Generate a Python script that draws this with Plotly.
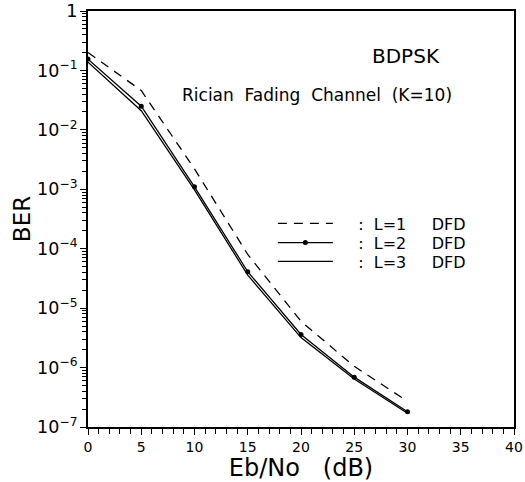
import plotly.graph_objects as go

ebno = [0, 5, 10, 15, 20, 25, 30]
ber_l1 = [0.20, 0.046, 0.0022, 8.0e-5, 6.0e-6, 1.05e-6, 2.7e-7]
ber_l2 = [0.155, 0.025, 0.0011, 4.1e-5, 3.6e-6, 6.9e-7, 1.8e-7]
ber_l3 = [0.138, 0.021, 0.00098, 3.6e-5, 3.2e-6, 6.4e-7, 1.7e-7]

font = "DejaVu Sans, Liberation Sans, sans-serif"

fig = go.Figure()
fig.add_trace(go.Scatter(x=ebno, y=ber_l1, mode="lines", name="    :  L=1     DFD",
                         legend="legend",
                         line=dict(color="black", width=1.3, dash="9px,7px")))
fig.add_trace(go.Scatter(x=ebno, y=ber_l2, mode="lines+markers", name="    :  L=2     DFD",
                         legend="legend2",
                         line=dict(color="black", width=1.3),
                         marker=dict(color="black", size=5, symbol="circle")))
fig.add_trace(go.Scatter(x=ebno, y=ber_l3, mode="lines", name="    :  L=3     DFD",
                         legend="legend3",
                         line=dict(color="black", width=1.3)))

leg_common = dict(x=0.434, xanchor="left", yanchor="top",
                  bgcolor="rgba(0,0,0,0)", font=dict(size=16, family=font),
                  itemwidth=55)

fig.update_layout(
    width=525, height=482,
    margin=dict(l=88, r=11, t=11, b=55, autoexpand=False),
    paper_bgcolor="white", plot_bgcolor="white",
    font=dict(family=font, color="black", size=13),
    showlegend=True,
    legend=dict(y=0.530, **leg_common),
    legend2=dict(y=0.484, **leg_common),
    legend3=dict(y=0.439, **leg_common),
    annotations=[
        dict(text="BDPSK", x=0.746, y=0.892, xref="paper", yref="paper",
             xanchor="center", yanchor="middle",
             showarrow=False, font=dict(size=20, family=font)),
        dict(text="Rician  Fading  Channel  (K=10)", x=0.537, y=0.798, xref="paper", yref="paper",
             xanchor="center", yanchor="middle",
             showarrow=False, font=dict(size=17, family=font)),
    ],
)

fig.update_xaxes(range=[0, 40], dtick=5, tick0=0, automargin=False,
                 showline=True, linecolor="black", linewidth=1.5, mirror=True,
                 ticks="outside", ticklen=6, tickcolor="black",
                 minor=dict(dtick=1, ticks="outside", ticklen=5, tickcolor="black"),
                 showgrid=False, zeroline=False,
                 tickfont=dict(size=14, family=font),
                 title=dict(text="Eb/No   (dB)", font=dict(size=24, family=font), standoff=6))
fig.update_yaxes(type="log", range=[-7, 0], dtick=1, exponentformat="power", automargin=False,
                 showline=True, linecolor="black", linewidth=1.5, mirror=True,
                 ticks="outside", ticklen=6, tickcolor="black",
                 minor=dict(ticks="outside", ticklen=4, tickcolor="black"),
                 showgrid=False, zeroline=False,
                 tickfont=dict(size=14, family=font),
                 title=dict(text="BER", font=dict(size=23, family=font), standoff=0))

fig.write_html("out.html", config={"displayModeBar": False},
               post_script="document.body.style.margin='0';")
